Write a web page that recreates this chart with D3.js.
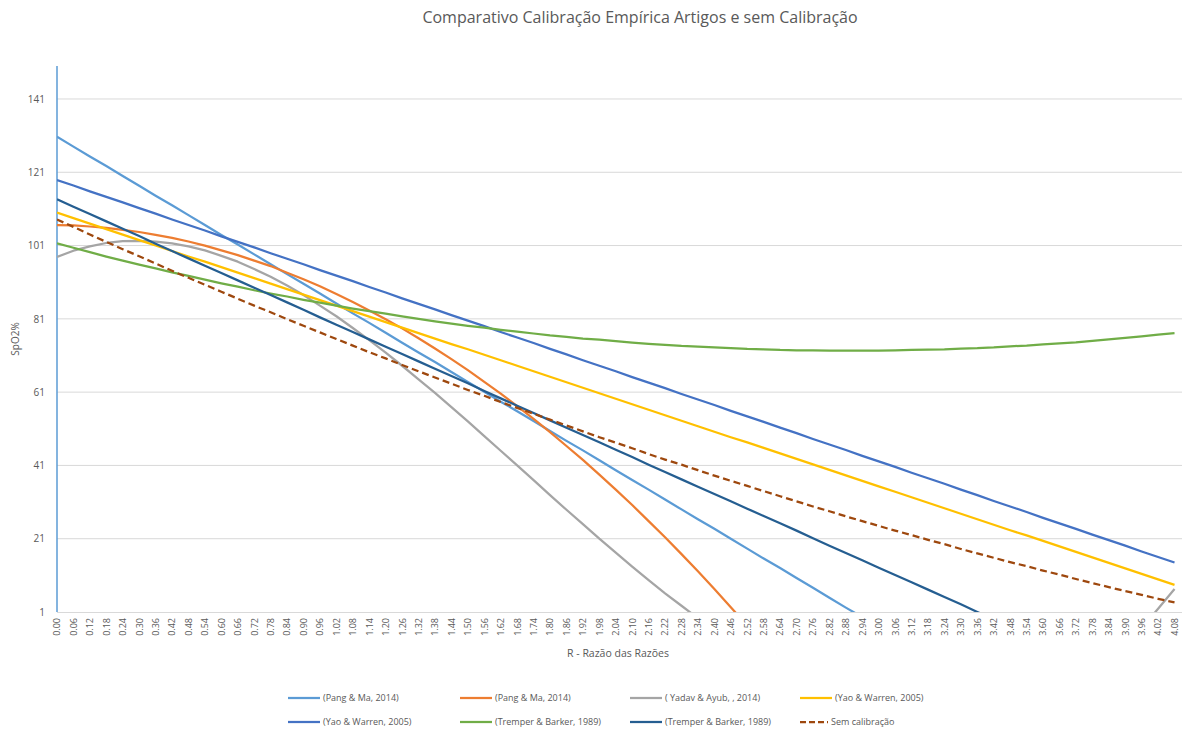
<!DOCTYPE html>
<html>
<head>
<meta charset="utf-8">
<script src="https://cdn.jsdelivr.net/npm/d3@7"></script>
<style>
  body { margin: 0; background: #fff; }
  text { font-family: "Open Sans", sans-serif; fill: #595959; }
</style>
</head>
<body>
<svg id="chart" width="1184" height="730"></svg>
<script>
// R values (category axis), every 0.06
const categories = [0.00,0.06,0.12,0.18,0.24,0.30,0.36,0.42,0.48,0.54,0.60,0.66,0.72,0.78,0.84,0.90,0.96,1.02,1.08,1.14,
  1.20,1.26,1.32,1.38,1.44,1.50,1.56,1.62,1.68,1.74,1.80,1.86,1.92,1.98,2.04,2.10,2.16,2.22,2.28,2.34,
  2.40,2.46,2.52,2.58,2.64,2.70,2.76,2.82,2.88,2.94,3.00,3.06,3.12,3.18,3.24,3.30,3.36,3.42,3.48,3.54,
  3.60,3.66,3.72,3.78,3.84,3.90,3.96,4.02,4.08];

const yTicks = [1, 21, 41, 61, 81, 101, 121, 141];

// series values (lines below 1 are cut by the plot area)
const pangMa1 = [130.7,128.0,125.3,122.7,120.0,117.3,114.6,112.0,109.3,106.6,103.9,101.3,98.6,95.9,93.2,90.6,87.9,85.2,82.5,79.9,
  77.2,74.5,71.8,69.2,66.5,63.8,61.1,58.4,55.8,53.1,50.4,47.7,45.1,42.4,39.7,37.0,34.4,31.7,29.0,26.3,
  23.7,21.0,18.3,15.6,13.0,10.3,7.6,4.9,2.2,-0.4];

const pangMa2 = [106.6,106.5,106.2,105.8,105.3,104.7,103.9,103.1,102.1,101.0,99.7,98.4,96.9,95.4,93.6,91.8,89.9,87.8,85.6,83.3,
  80.9,78.4,75.7,72.9,70.0,67.0,63.8,60.6,57.2,53.7,50.1,46.3,42.5,38.5,34.4,30.2,25.8,21.4,16.8,12.1,
  7.3,2.3,-2.7];

const yadavAyub = [97.9,99.6,100.8,101.7,102.2,102.3,102.1,101.6,100.8,99.7,98.2,96.6,94.6,92.5,90.1,87.5,84.6,81.7,78.5,75.2,
  71.8,68.2,64.5,60.8,56.9,53.0,49.0,45.0,41.0,37.0,32.9,28.9,25.0,21.0,17.2,13.4,9.7,6.1,2.7,-0.7,
  null,null,null,null,null,null,null,null,null,null,null,null,null,null,null,null,null,null,null,null,
  null,null,null,null,null,null,-3.5,1.9,7.3];

const yaoWarren1 = [110.0,108.5,107.0,105.5,104.0,102.5,101.0,99.5,98.0,96.6,95.1,93.6,92.1,90.6,89.1,87.6,86.1,84.6,83.1,81.6,
  80.1,78.6,77.1,75.6,74.1,72.7,71.2,69.7,68.2,66.7,65.2,63.7,62.2,60.7,59.2,57.7,56.2,54.7,53.2,51.7,
  50.2,48.7,47.3,45.8,44.3,42.8,41.3,39.8,38.3,36.8,35.3,33.8,32.3,30.8,29.3,27.8,26.3,24.8,23.3,21.9,
  20.4,18.9,17.4,15.9,14.4,12.9,11.4,9.9,8.4];

const yaoWarren2 = [118.9,117.4,115.8,114.3,112.8,111.2,109.7,108.1,106.6,105.1,103.5,102.0,100.5,98.9,97.4,95.9,94.3,92.8,91.3,89.7,
  88.2,86.6,85.1,83.6,82.0,80.5,79.0,77.4,75.9,74.4,72.8,71.3,69.7,68.2,66.7,65.1,63.6,62.1,60.5,59.0,
  57.5,55.9,54.4,52.9,51.3,49.8,48.2,46.7,45.2,43.6,42.1,40.6,39.0,37.5,36.0,34.4,32.9,31.3,29.8,28.3,
  26.7,25.2,23.7,22.1,20.6,19.1,17.5,16.0,14.5];

const tremper1 = [101.6,100.4,99.2,98.0,96.9,95.8,94.8,93.7,92.7,91.7,90.7,89.8,88.8,87.9,87.1,86.2,85.4,84.6,83.8,83.1,
  82.4,81.7,81.0,80.3,79.7,79.1,78.6,78.0,77.5,77.0,76.5,76.1,75.6,75.3,74.9,74.5,74.2,73.9,73.6,73.4,
  73.2,73.0,72.8,72.7,72.5,72.4,72.4,72.3,72.3,72.3,72.3,72.4,72.5,72.6,72.7,72.9,73.0,73.2,73.5,73.7,
  74.0,74.3,74.6,75.0,75.4,75.8,76.2,76.7,77.1];

const tremper2 = [113.6,111.6,109.6,107.6,105.6,103.6,101.5,99.5,97.5,95.5,93.5,91.5,89.5,87.5,85.5,83.5,81.4,79.4,77.4,75.4,
  73.4,71.4,69.4,67.4,65.4,63.4,61.3,59.3,57.3,55.3,53.3,51.3,49.3,47.3,45.3,43.3,41.2,39.2,37.2,35.2,
  33.2,31.2,29.2,27.2,25.2,23.2,21.1,19.1,17.1,15.1,13.1,11.1,9.1,7.1,5.1,3.1,1.0,-1.0];

const semCalib = [108.1,106.1,104.0,102.0,100.0,98.1,96.1,94.1,92.2,90.3,88.4,86.5,84.6,82.8,80.9,79.1,77.3,75.5,73.7,71.9,
  70.2,68.4,66.7,65.0,63.3,61.6,60.0,58.3,56.7,55.1,53.5,51.9,50.3,48.7,47.2,45.7,44.1,42.6,41.2,39.7,
  38.2,36.8,35.4,34.0,32.6,31.2,29.8,28.5,27.1,25.8,24.5,23.2,22.0,20.7,19.5,18.2,17.0,15.8,14.6,13.5,
  12.3,11.2,10.0,8.9,7.8,6.7,5.7,4.6,3.6];

const seriesNames = ["(Pang & Ma, 2014)", "(Pang & Ma, 2014)", "( Yadav & Ayub, , 2014)", "(Yao & Warren, 2005)",
  "(Yao & Warren, 2005)", "(Tremper & Barker, 1989)", "(Tremper & Barker, 1989)", "Sem calibração"];
const seriesColors = ["#5B9BD5", "#ED7D31", "#A5A5A5", "#FFC000", "#4472C4", "#70AD47", "#255E91", "#9E480E"];
const seriesValues = [pangMa1, pangMa2, yadavAyub, yaoWarren1, yaoWarren2, tremper1, tremper2, semCalib];

const svg = d3.select("#chart");
const plot = {left: 57, right: 1182, top: 66, bottom: 612};

const x = d3.scaleLinear().domain([0, 4.10]).range([plot.left, 1180]);
const y = d3.scaleLinear().domain([1, 150]).range([plot.bottom, plot.top]);

// title
svg.append("text")
  .attr("x", 640).attr("y", 23)
  .attr("text-anchor", "middle")
  .style("font-size", "16px")
  .text("Comparativo Calibração Empírica Artigos e sem Calibração");

// gridlines
svg.append("g")
  .selectAll("line")
  .data(yTicks.slice(1))
  .join("line")
  .attr("x1", plot.left).attr("x2", plot.right)
  .attr("y1", d => y(d)).attr("y2", d => y(d))
  .attr("stroke", "#D9D9D9").attr("stroke-width", 1);

// x axis
const xAxis = svg.append("g")
  .attr("transform", `translate(0,${plot.bottom})`)
  .call(d3.axisBottom(x).tickValues(categories).tickFormat(d3.format(".2f")).tickSize(0));
xAxis.select(".domain").attr("stroke", "#D9D9D9").attr("d", `M${plot.left},0.5H${plot.right}`);
xAxis.selectAll("text")
  .attr("transform", "rotate(-90)")
  .attr("x", -6).attr("y", 0).attr("dy", "0.32em")
  .attr("text-anchor", "end")
  .style("font-size", "9px")
  .style("fill", "#595959")
  .style("font-family", "'Open Sans', sans-serif");

// y axis
const yAxis = svg.append("g")
  .attr("transform", `translate(${plot.left},0)`)
  .call(d3.axisLeft(y).tickValues(yTicks).tickFormat(d3.format("d")).tickSize(0));
yAxis.select(".domain").attr("stroke", "#5B9BD5").attr("stroke-width", 1.5)
  .attr("d", `M0,${plot.top}V${plot.bottom}`);
yAxis.selectAll("text")
  .attr("x", -12)
  .style("font-size", "10px")
  .style("fill", "#595959")
  .style("font-family", "'Open Sans', sans-serif");

// axis titles
svg.append("text")
  .attr("x", 618).attr("y", 657)
  .attr("text-anchor", "middle")
  .style("font-size", "10.5px")
  .text("R - Razão das Razões");

svg.append("text")
  .attr("transform", "translate(19,339) rotate(-90)")
  .attr("text-anchor", "middle")
  .style("font-size", "10px")
  .text("SpO2%");

// lines
svg.append("defs").append("clipPath").attr("id", "plotClip")
  .append("rect")
  .attr("x", plot.left).attr("y", plot.top)
  .attr("width", plot.right - plot.left).attr("height", plot.bottom - plot.top);

const line = d3.line()
  .defined(d => d != null)
  .x((d, i) => x(categories[i]))
  .y(d => y(d));

svg.append("g")
  .attr("clip-path", "url(#plotClip)")
  .selectAll("path")
  .data(seriesValues)
  .join("path")
  .attr("fill", "none")
  .attr("stroke", (d, i) => seriesColors[i])
  .attr("stroke-width", 2.25)
  .attr("stroke-linejoin", "round")
  .attr("stroke-dasharray", (d, i) => i === 7 ? "7,4" : null)
  .attr("d", d => line(d));

// legend: 4 columns, 2 rows
const legendPos = [
  {x: 288, y: 698}, {x: 460, y: 698}, {x: 630, y: 698}, {x: 800, y: 698},
  {x: 288, y: 722}, {x: 460, y: 722}, {x: 630, y: 722}, {x: 800, y: 722}
];

const legend = svg.append("g")
  .selectAll("g")
  .data(seriesNames)
  .join("g")
  .attr("transform", (d, i) => `translate(${legendPos[i].x},${legendPos[i].y})`);

legend.append("line")
  .attr("x1", 0).attr("x2", (d, i) => i === 7 ? 28 : 32)
  .attr("y1", 0).attr("y2", 0)
  .attr("stroke", (d, i) => seriesColors[i])
  .attr("stroke-width", 2.25)
  .attr("stroke-dasharray", (d, i) => i === 7 ? "6,3" : null);

legend.append("text")
  .attr("x", (d, i) => i === 7 ? 31 : 35)
  .attr("y", 0).attr("dy", "0.35em")
  .style("font-size", "9px")
  .text(d => d);
</script>
</body>
</html>
